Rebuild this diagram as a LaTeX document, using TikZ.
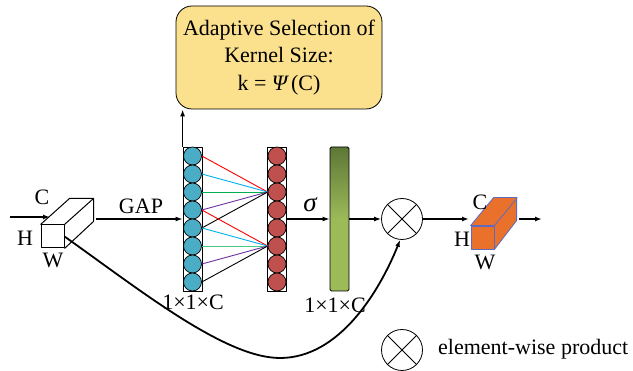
\documentclass[tikz,border=0pt]{standalone}
\usepackage{fontspec}
\setmainfont{Liberation Serif}
\newfontfamily\lblfont{Liberation Serif}
\usetikzlibrary{arrows.meta}

\definecolor{bluec}{HTML}{4BACC6}
\definecolor{redc}{HTML}{C0504D}
\definecolor{gdark}{HTML}{5C7736}
\definecolor{glight}{HTML}{9BBB59}
\definecolor{kfill}{HTML}{FBE08E}
\definecolor{orangec}{HTML}{E9712B}
\definecolor{cubeedge}{HTML}{5C6BC0}
\definecolor{cyanc}{HTML}{00B0F0}
\definecolor{greenc}{HTML}{00B050}
\definecolor{purplec}{HTML}{7030A0}

\begin{document}
\begin{tikzpicture}[x=1pt,y=-1pt,line join=round,
  lbl/.style={font=\lblfont\fontsize{22}{27.5}\selectfont,inner sep=0pt},
  arr/.style={line width=1.4pt,-{Latex[length=7pt,width=5pt]}},
  colbox/.style={draw,fill=white,minimum width=19pt,minimum height=144pt,inner sep=0pt,line width=0.8pt},
  bball/.style={circle,draw,fill=bluec,minimum size=18pt,inner sep=0pt,line width=0.7pt},
  rball/.style={circle,draw,fill=redc,minimum size=18pt,inner sep=0pt,line width=0.7pt},
  otimes/.style={circle,draw,minimum size=41pt,inner sep=0pt,line width=0.8pt},
  link/.style={line width=0.9pt}]

  \useasboundingbox (0,0) rectangle (633,371);

  % ---- input feature cube ----
  \node[draw,fill=white,minimum size=23pt,inner sep=0pt,line width=1pt] (incube) at (52.5,236.5) {};
  \draw[line width=1pt] (incube.north west) -- ++(29,-26) -- ++(24,0) -- ++(0,23) -- (incube.south east);
  \draw[line width=1pt] (incube.north east) -- ++(29,-26);
  \node[lbl] (inC) at (42,197) {C};
  \node[lbl] (inH) at (25,238) {H};
  \node[lbl] (inW) at (53,260) {W};
  \coordinate (infrom) at (10,217);
  \coordinate (intip) at (50,217);
  \draw[arr] (infrom) -- (intip);

  % ---- GAP vector ----
  \node[colbox] (bcol) at (192.5,219) {};
  \foreach \i in {1,...,8}
    \node[bball] (b\i) at (192.5,{138+18*\i}) {};
  \coordinate (gapfrom) at (96,219);
  \draw[arr] (gapfrom) -- (bcol.west);
  \node[lbl] (gap) at (141,206) {GAP};
  \node[lbl] (bdim) at (193,302) {1×1×C};

  % ---- kernel size box ----
  \node[lbl,draw,line width=0.8pt,fill=kfill,rounded corners=16pt,minimum width=206pt,
        minimum height=103pt,align=center] (kbox) at (279,57.5)
        {Adaptive Selection of\\Kernel Size:\\k = {\itshape Ψ}\,(C)};
  \draw[arr] (bcol.north west) -- (bcol.north west |- kbox.south);

  % ---- 1D conv output ----
  \node[colbox] (rcol) at (277,219) {};
  \foreach \i in {1,...,8}
    \node[rball] (r\i) at (277,{138+18*\i}) {};
  \foreach \i/\c in {1/red,2/cyanc,3/greenc,4/purplec,5/black}
    \draw[link,\c] (b\i.east) -- (r3.west);
  \foreach \i/\c in {4/red,5/cyanc,6/greenc!70,7/purplec,8/black}
    \draw[link,\c] (b\i.east) -- (r6.west);

  % ---- sigmoid weights ----
  \node[draw,line width=0.8pt,rounded corners=1.5pt,minimum width=19pt,minimum height=144pt,
        inner sep=0pt,top color=gdark,bottom color=glight,middle color=glight] (gbar) at (339.5,219) {};
  \draw[arr] (rcol.east) -- (gbar.west);
  \node[lbl,font=\lblfont\itshape\fontsize{27}{30}\selectfont] (sig) at (310,205) {σ};
  \node[lbl] (gdim) at (335,305) {1×1×C};

  % ---- element-wise product ----
  \node[otimes] (prod) at (402,219) {};
  \draw[line width=0.8pt] (prod.north west) -- (prod.south east);
  \draw[line width=0.8pt] (prod.north east) -- (prod.south west);
  \draw[arr] (gbar.east) -- (prod.west);
  \draw[line width=1.8pt,-{Latex[length=7pt,width=5pt]}] (incube.east)
    .. controls (140,290) and (225,358) .. (280,358)
    .. controls (340,358) and (380,290) .. (prod.-95);

  % ---- output feature cube ----
  \node[draw=cubeedge,fill=orangec,minimum size=23pt,inner sep=0pt,line width=0.8pt] (ocube) at (482.5,237.5) {};
  \draw[cubeedge,fill=orangec,line width=0.8pt] (ocube.north west) -- ++(23,-28) -- ++(23,0) -- ++(0,23)
    -- (ocube.south east) -- (ocube.north east) -- cycle;
  \draw[cubeedge,line width=0.8pt] (ocube.north east) -- ++(23,-28);
  \coordinate (outtip) at (469,219);
  \draw[arr] (prod.east) -- (outtip);
  \coordinate (outfrom) at (519,219);
  \coordinate (outend) at (542,219);
  \draw[arr] (outfrom) -- (outend);
  \node[lbl] (oC) at (480,202) {C};
  \node[lbl] (oH) at (462,239) {H};
  \node[lbl] (oW) at (485,262) {W};

  % ---- legend ----
  \node[otimes] (legprod) at (402,350) {};
  \draw[line width=0.8pt] (legprod.north west) -- (legprod.south east);
  \draw[line width=0.8pt] (legprod.north east) -- (legprod.south west);
  \node[lbl,anchor=west] (legtext) at (438,349) {element-wise product};

\end{tikzpicture}
\end{document}
